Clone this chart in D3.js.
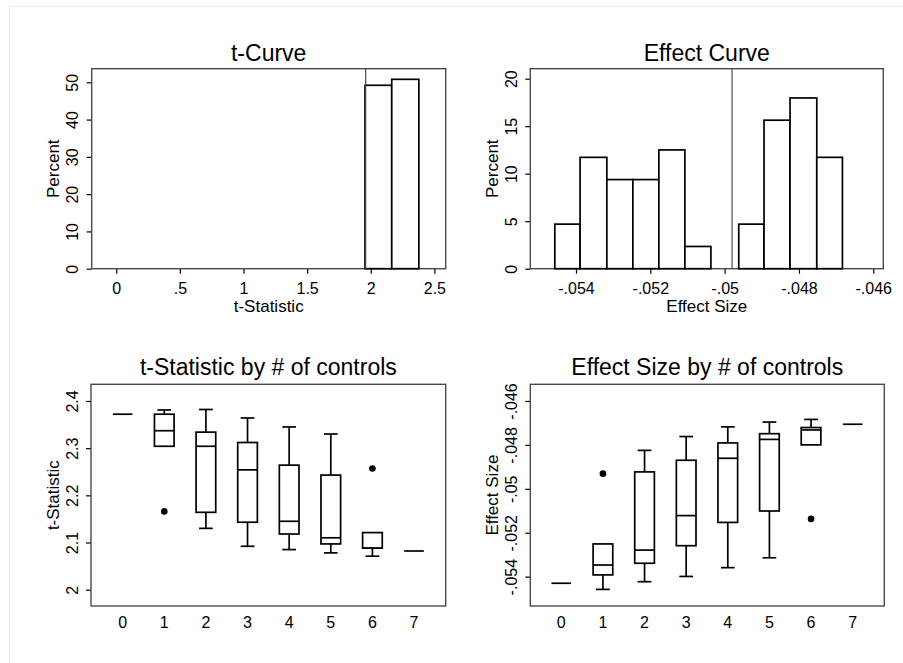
<!DOCTYPE html>
<html>
<head>
<meta charset="utf-8">
<script src="https://cdn.jsdelivr.net/npm/d3@7"></script>
<style>
  body { margin: 0; background: #fff; }
  svg { display: block; font-family: "Liberation Sans", Arial, Helvetica, sans-serif; }
  .tick text { fill: #000; }
</style>
</head>
<body>
<div class="chart"></div>
<script>
// ---- data ----
// t-Curve histogram
const tBinEdges = [1.955, 2.165, 2.378];
const tBinPct = [49.2, 50.8];
const tCutoff = 1.96;
const tHistXTicks = [0, 0.5, 1, 1.5, 2, 2.5];
const tHistYTicks = [0, 10, 20, 30, 40, 50];

// Effect Curve histogram (two groups either side of the cutoff)
const effLeftEdges = [-0.05457, -0.05389, -0.05317, -0.05247, -0.05177, -0.05107, -0.05037];
const effLeftPct = [4.69, 11.72, 9.38, 9.38, 12.5, 2.34];
const effRightEdges = [-0.04962, -0.04894, -0.04824, -0.04752, -0.04683];
const effRightPct = [4.69, 15.63, 17.97, 11.72];
const effCutoff = -0.0498;
const effHistXTicks = [-0.054, -0.052, -0.05, -0.048, -0.046];
const effHistYTicks = [0, 5, 10, 15, 20];

// box plots by number of controls
const controls = [0, 1, 2, 3, 4, 5, 6, 7];
const tLo  = [2.372, 2.304, 2.130, 2.092, 2.085, 2.078, 2.071, 2.082];
const tQ1  = [2.372, 2.304, 2.164, 2.143, 2.118, 2.097, 2.088, 2.082];
const tMed = [2.372, 2.337, 2.304, 2.254, 2.145, 2.110, 2.088, 2.082];
const tQ3  = [2.372, 2.372, 2.334, 2.312, 2.264, 2.243, 2.121, 2.082];
const tHi  = [2.372, 2.381, 2.382, 2.364, 2.345, 2.330, 2.121, 2.082];
const tOutliers = [[1, 2.166], [6, 2.257]];
const tBoxYTicks = [2, 2.1, 2.2, 2.3, 2.4];

const eLo  = [-0.05430, -0.05458, -0.05423, -0.05399, -0.05359, -0.05314, -0.04800, -0.04706];
const eQ1  = [-0.05430, -0.05392, -0.05339, -0.05259, -0.05153, -0.05101, -0.04800, -0.04706];
const eMed = [-0.05430, -0.05347, -0.05279, -0.05122, -0.04861, -0.04775, -0.04732, -0.04706];
const eQ3  = [-0.05430, -0.05251, -0.04923, -0.04870, -0.04791, -0.04749, -0.04721, -0.04706];
const eHi  = [-0.05430, -0.05251, -0.04825, -0.04762, -0.04718, -0.04696, -0.04684, -0.04706];
const eOutliers = [[1, -0.04931], [6, -0.05137]];
const eBoxYTicks = [-0.054, -0.052, -0.05, -0.048, -0.046];

// ---- layout ----
const width = 903, height = 663;
const fmt = d => String(d).replace(/^(-?)0\./, "$1.");   // Stata drops the leading zero

const svg = d3.select(".chart").append("svg")
  .attr("width", width).attr("height", height);

// faint outer border
svg.append("line").attr("x1", 9).attr("x2", width).attr("y1", 6.5).attr("y2", 6.5)
  .attr("stroke", "#eeeeee");
svg.append("line").attr("x1", 9.5).attr("x2", 9.5).attr("y1", 6).attr("y2", height)
  .attr("stroke", "#eeeeee");

// draws frame, axes and titles for one panel, returns the plot group
function panel(p) {
  const g = svg.append("g");
  const x = d3.scaleLinear().domain(p.xDomain).range([p.left, p.right]);
  const y = d3.scaleLinear().domain(p.yDomain).range([p.bottom, p.top]);

  const yAxis = d3.axisLeft(y).tickValues(p.yTicks).tickFormat(fmt)
    .tickSize(5).tickSizeOuter(0);
  const ya = g.append("g").attr("transform", `translate(${p.left},0)`).call(yAxis);
  ya.select(".domain").remove();
  ya.selectAll(".tick line").attr("stroke", "#000").attr("stroke-width", 1.2);
  ya.selectAll(".tick text")
    .attr("x", null).attr("dy", null)
    .attr("transform", "translate(-19,0) rotate(-90)")
    .attr("text-anchor", "middle")
    .attr("dominant-baseline", "central")
    .style("font-size", "16px");

  if (p.xTicks) {
    const xAxis = d3.axisBottom(x).tickValues(p.xTicks).tickFormat(fmt)
      .tickSize(5).tickSizeOuter(0);
    const xa = g.append("g").attr("transform", `translate(0,${p.bottom})`).call(xAxis);
    xa.select(".domain").remove();
    xa.selectAll(".tick line").attr("stroke", "#000").attr("stroke-width", 1.2);
    xa.selectAll(".tick text").attr("y", 20).attr("dy", null)
      .attr("dominant-baseline", "central").style("font-size", "16px");
  } else {
    g.selectAll(".cat").data(controls).join("text")
      .attr("x", d => x(d)).attr("y", p.bottom + 16)
      .attr("text-anchor", "middle").attr("dominant-baseline", "central")
      .style("font-size", "16px").text(d => d);
  }

  // frame
  g.append("rect")
    .attr("x", p.left).attr("y", p.top)
    .attr("width", p.right - p.left).attr("height", p.bottom - p.top)
    .attr("fill", "none").attr("stroke", "#4a4a4a").attr("stroke-width", 1.4);

  g.append("text").attr("x", (p.left + p.right) / 2).attr("y", p.titleY)
    .attr("text-anchor", "middle").style("font-size", "23px").text(p.title);

  if (p.xTitle) {
    g.append("text").attr("x", (p.left + p.right) / 2).attr("y", p.bottom + 38)
      .attr("text-anchor", "middle").attr("dominant-baseline", "central")
      .style("font-size", "17px").text(p.xTitle);
  }
  g.append("text")
    .attr("transform", `translate(${p.left - 38},${(p.top + p.bottom) / 2}) rotate(-90)`)
    .attr("text-anchor", "middle").attr("dominant-baseline", "central")
    .style("font-size", "17px").text(p.yTitle);

  return {g, x, y};
}

function histogram(pn, edges, pct) {
  pn.g.append("g").selectAll("rect").data(pct).join("rect")
    .attr("x", (d, i) => pn.x(edges[i]))
    .attr("width", (d, i) => pn.x(edges[i + 1]) - pn.x(edges[i]))
    .attr("y", d => pn.y(d))
    .attr("height", d => pn.y(0) - pn.y(d))
    .attr("fill", "#fff").attr("stroke", "#000").attr("stroke-width", 1.7);
}

function cutLine(pn, v) {
  const [y0, y1] = pn.y.range();
  pn.g.append("line").attr("x1", pn.x(v)).attr("x2", pn.x(v))
    .attr("y1", y0).attr("y2", y1).attr("stroke", "#4a4a4a").attr("stroke-width", 1.2);
}

function boxes(pn, lo, q1, med, q3, hi, outliers) {
  const half = pn.x(0.236) - pn.x(0);
  const cap = pn.x(0.165) - pn.x(0);
  const gb = pn.g.append("g").attr("stroke", "#000").attr("stroke-width", 1.7).attr("fill", "none");
  controls.forEach((c, i) => {
    const cx = pn.x(c);
    if (q3[i] !== q1[i]) {
      gb.append("rect").attr("x", cx - half).attr("width", 2 * half)
        .attr("y", pn.y(q3[i])).attr("height", pn.y(q1[i]) - pn.y(q3[i]));
    }
    gb.append("line").attr("x1", cx - half).attr("x2", cx + half)
      .attr("y1", pn.y(med[i])).attr("y2", pn.y(med[i]));
    if (hi[i] > q3[i]) {
      gb.append("line").attr("x1", cx).attr("x2", cx).attr("y1", pn.y(q3[i])).attr("y2", pn.y(hi[i]));
      gb.append("line").attr("x1", cx - cap).attr("x2", cx + cap).attr("y1", pn.y(hi[i])).attr("y2", pn.y(hi[i]));
    }
    if (lo[i] < q1[i]) {
      gb.append("line").attr("x1", cx).attr("x2", cx).attr("y1", pn.y(q1[i])).attr("y2", pn.y(lo[i]));
      gb.append("line").attr("x1", cx - cap).attr("x2", cx + cap).attr("y1", pn.y(lo[i])).attr("y2", pn.y(lo[i]));
    }
  });
  pn.g.append("g").selectAll("circle").data(outliers).join("circle")
    .attr("cx", d => pn.x(d[0])).attr("cy", d => pn.y(d[1])).attr("r", 3.3).attr("fill", "#000");
}

// t-Curve
const p1 = panel({left: 91.7, right: 445.7, top: 68.7, bottom: 268.7,
  xDomain: [-0.193, 2.589], yDomain: [0, 53.65],
  xTicks: tHistXTicks, yTicks: tHistYTicks,
  title: "t-Curve", titleY: 61, xTitle: "t-Statistic", yTitle: "Percent"});
histogram(p1, tBinEdges, tBinPct);
cutLine(p1, tCutoff);

// Effect Curve
const p2 = panel({left: 530.3, right: 883.3, top: 68.7, bottom: 268.7,
  xDomain: [-0.05523, -0.04573], yDomain: [0, 21.05],
  xTicks: effHistXTicks, yTicks: effHistYTicks,
  title: "Effect Curve", titleY: 61, xTitle: "Effect Size", yTitle: "Percent"});
histogram(p2, effLeftEdges, effLeftPct);
histogram(p2, effRightEdges, effRightPct);
cutLine(p2, effCutoff);

// t-Statistic by # of controls
const p3 = panel({left: 91, right: 445.7, top: 384.3, bottom: 606,
  xDomain: [-0.76, 7.76], yDomain: [1.9654, 2.4354],
  yTicks: tBoxYTicks,
  title: "t-Statistic by # of controls", titleY: 375, yTitle: "t-Statistic"});
boxes(p3, tLo, tQ1, tMed, tQ3, tHi, tOutliers);

// Effect Size by # of controls
const p4 = panel({left: 530.3, right: 884.3, top: 384.3, bottom: 606,
  xDomain: [-0.745, 7.76], yDomain: [-0.055336, -0.045241],
  yTicks: eBoxYTicks,
  title: "Effect Size by # of controls", titleY: 375, yTitle: "Effect Size"});
boxes(p4, eLo, eQ1, eMed, eQ3, eHi, eOutliers);
</script>
</body>
</html>
